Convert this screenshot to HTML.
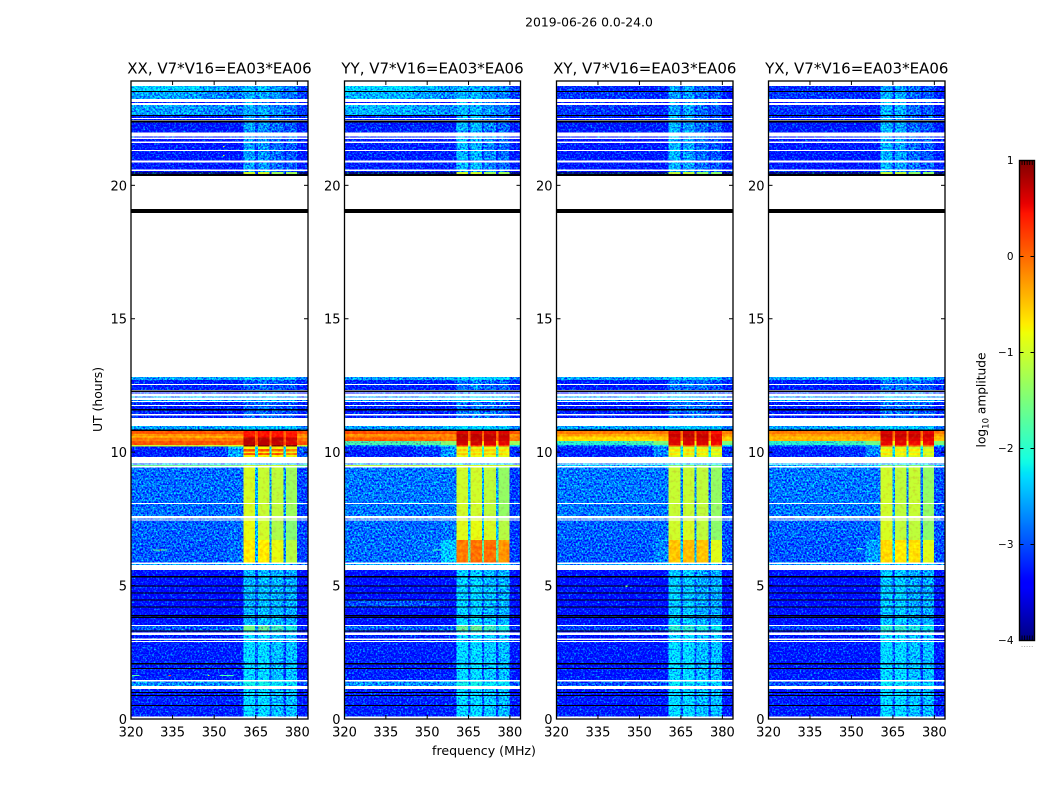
<!DOCTYPE html>
<html lang="en">
<head>
<meta charset="utf-8">
<title>2019-06-26 dynamic spectra</title>
<style>
  html, body { margin: 0; padding: 0; background: #fff; }
  svg { display: block; }
  text { font-family: "DejaVu Sans", "Liberation Sans", sans-serif; fill: #000; }
</style>
</head>
<body>
<svg id="figure" width="1050" height="800" viewBox="0 0 1050 800" xmlns="http://www.w3.org/2000/svg">
  <defs>
    <filter id="speckle" filterUnits="userSpaceOnUse" x="120" y="70" width="840" height="660" color-interpolation-filters="sRGB">
      <feTurbulence type="fractalNoise" baseFrequency="0.55" numOctaves="2" seed="7" result="turb"/>
      <feColorMatrix in="turb" type="matrix" values="0 0 0 0 0.5  1 0 0 0 0  0 0 0 0 0.5  0 0 0 0 1" result="grain"/>
      <feComposite in="SourceGraphic" in2="grain" operator="arithmetic" k1="0" k2="1" k3="2.1" k4="-1.05" result="mixed"/>
      <feComposite in="mixed" in2="SourceAlpha" operator="in"/>
    </filter>
    <filter id="speckle-soft" filterUnits="userSpaceOnUse" x="120" y="70" width="840" height="660" color-interpolation-filters="sRGB">
      <feTurbulence type="fractalNoise" baseFrequency="0.3" numOctaves="2" seed="11" result="turb"/>
      <feColorMatrix in="turb" type="matrix" values="0 0 0 0 0.5  1 0 0 0 0  0 0 0 0 0.5  0 0 0 0 1" result="grain"/>
      <feComposite in="SourceGraphic" in2="grain" operator="arithmetic" k1="0" k2="1" k3="0.45" k4="-0.225" result="mixed"/>
      <feComposite in="mixed" in2="SourceAlpha" operator="in"/>
    </filter>
    <linearGradient id="cbar-gradient" x1="0" y1="1" x2="0" y2="0"></linearGradient>
  </defs>
  <rect x="0" y="0" width="1050" height="800" fill="#fff"/>
  <text x="589" y="26.5" font-size="12.4" text-anchor="middle">2019-06-26 0.0-24.0</text>
  <text transform="translate(102,399.5) rotate(-90)" font-size="12.4" text-anchor="middle">UT (hours)</text>
  <text x="484" y="755" font-size="12.6" text-anchor="middle">frequency (MHz)</text>
  <g id="panels"></g>
  <g id="colorbar">
    <rect id="cbar-fill" x="1019.5" y="160.5" width="15" height="480" fill="url(#cbar-gradient)" stroke="#000" stroke-width="1.4"/>
    <text transform="translate(985.5,400) rotate(-90)" font-size="12.2" text-anchor="middle">log<tspan font-size="8.5" dy="3">10</tspan><tspan dy="-3"> amplitude</tspan></text>
  </g>
</svg>
<script>
/* ---------- shared data ---------- */
const panelNames = ['XX', 'YY', 'XY', 'YX'];
const baselineLabel = 'V7*V16=EA03*EA06';
const xTicks = [320, 335, 350, 365, 380];
const yTicks = [0, 5, 10, 15, 20];
const cbarTicks = [1, 0, -1, -2, -3, -4];
const cbarMinorTicks = [1, 2, 3, 4, 5];
/* channel edges in MHz: bg, bg, bg, band1, gap, band2, gap, band3, gap, band4, bg */
const channelEdges = [320, 345, 355, 360.6, 364.8, 365.8, 369.9, 370.6, 375, 375.9, 379.8, 384];
/* integrations: [UT start, UT end, spectrum class] */
const rowSpans = [
  [23.73,23.54,'topA'],[23.54,23.50,'black'],[23.50,23.24,'topB'],[23.13,23.09,'upper'],
  [23.01,22.64,'topB'],[22.64,22.60,'black'],[22.60,22.53,'upper'],[22.49,22.45,'upper'],[22.43,22.35,'black'],
  [22.35,21.98,'upper'],[21.83,21.79,'upper'],[21.74,21.64,'upper'],[21.59,21.33,'upper'],[21.29,20.93,'upper'],
  [20.85,20.59,'upper'],[20.54,20.50,'upper'],[20.50,20.42,'edge'],[20.42,20.35,'black'],[19.12,18.97,'black'],
  [12.82,12.70,'cyanRow'],[12.70,12.56,'rows'],[12.52,12.33,'rows'],[12.31,12.26,'black'],[12.24,12.20,'rows'],
  [12.08,12.04,'cyanRow'],[11.96,11.92,'cyanRow'],[11.88,11.77,'rows'],[11.73,11.62,'rows'],[11.62,11.56,'black'],
  [11.56,11.43,'rows'],[11.38,11.28,'rows'],[10.98,10.85,'cyanRow'],[10.85,10.79,'black'],
  [10.79,10.68,'hotA'],[10.68,10.59,'hotB'],[10.59,10.55,'hotC'],[10.55,10.42,'hotD'],[10.42,10.27,'hotE'],[10.27,10.22,'hotF'],
  [10.22,10.12,'glowY'],[10.12,10.03,'glowO'],[10.03,9.97,'glowY'],[9.97,9.90,'glowO'],[9.90,9.82,'glowY'],
  [9.58,9.56,'cyanRow'],[9.52,9.48,'yellowRow'],
  [9.42,8.10,'midA'],[8.06,7.61,'midA'],[7.52,7.49,'midA'],[7.43,6.71,'midC'],[6.71,5.87,'midD'],[5.81,5.77,'cyanRow'],
  [5.58,5.35,'lowDark'],[5.35,5.31,'black'],[5.31,5.01,'lowDark'],[5.01,4.97,'black'],[4.97,4.75,'lowDark'],[4.75,4.71,'black'],
  [4.71,4.48,'lowDark'],[4.48,4.44,'black'],[4.44,4.22,'lowHaze'],[4.22,4.18,'black'],[4.18,3.89,'lowDark'],[3.89,3.85,'black'],
  [3.85,3.82,'lowDark'],[3.82,3.78,'black'],[3.78,3.52,'lowDark'],[3.49,3.32,'lowBright'],[3.32,3.28,'black'],[3.28,3.26,'lowDark'],
  [3.15,3.01,'lowBlue'],[2.96,2.92,'lowBlue'],[2.89,2.09,'lowBlue'],[2.09,2.05,'black'],[2.05,1.92,'lowBlue'],[1.92,1.88,'black'],
  [1.88,1.46,'lowBlue'],[1.40,1.24,'cyanStrip'],[1.12,1.01,'lowBlue'],[1.01,0.97,'black'],[0.97,0.90,'lowBlue'],[0.90,0.86,'black'],
  [0.86,0.52,'lowBlue'],[0.52,0.48,'black'],[0.48,0.09,'lowBlue']
];
/* log10 amplitude per channel block */
const spectraXX = {
  topA:[-2.35,-2.55,-2.7,-2.45,-2.7,-2.45,-2.75,-2.65,-2.9,-2.75,-3.1],
  topB:[-2.6,-2.7,-2.8,-2.55,-2.75,-2.55,-2.8,-2.7,-2.9,-2.8,-3.1],
  upper:[-3.3,-3.3,-3.3,-2.6,-3.1,-2.65,-3.1,-2.85,-3.2,-2.95,-3.3],
  edge:[-4,-4,-4,-1.0,-3.2,-1.0,-3.2,-1.3,-3.2,-1.3,-4],
  cyanRow:[-2.6,-2.6,-2.55,-2.4,-2.6,-2.4,-2.6,-2.45,-2.6,-2.45,-2.8],
  rows:[-3.25,-3.25,-3.25,-2.95,-3.1,-2.85,-3.1,-2.95,-3.1,-3.0,-3.25],
  hotA:[0.1,0.1,0.1,0.45,0.1,0.45,0.1,0.45,0.1,0.4,0.15],
  hotB:[-0.2,-0.2,-0.15,0.45,0.05,0.45,0.05,0.45,0.05,0.4,-0.1],
  hotC:[-0.55,-0.55,-0.5,0.5,-0.1,0.5,-0.1,0.5,-0.1,0.45,-0.5],
  hotD:[-0.1,-0.1,-0.05,0.75,0.1,0.75,0.1,0.75,0.1,0.65,-0.05],
  hotE:[0.1,0.1,0.1,0.75,0.15,0.75,0.15,0.7,0.15,0.6,0.1],
  hotF:[-1.0,-1.0,-0.9,1.0,-0.4,1.0,-0.4,1.0,-0.4,1.0,-1.0],
  glowY:[-3.25,-3.1,-2.5,-0.75,-2.3,-0.75,-2.3,-0.75,-2.3,-0.85,-2.9],
  glowO:[-3.25,-3.1,-2.6,0.1,-2.1,0.1,-2.1,0.05,-2.1,-0.15,-3.0],
  yellowRow:[-1.6,-1.6,-1.5,-1.0,-1.4,-1.0,-1.4,-1.0,-1.4,-1.1,-1.6],
  midA:[-2.85,-2.85,-2.85,-0.95,-2.5,-1.05,-2.6,-1.1,-2.7,-1.3,-3.05],
  midC:[-2.9,-2.9,-2.85,-0.85,-2.5,-1.0,-2.6,-1.2,-2.7,-1.45,-3.05],
  midD:[-2.95,-2.95,-2.85,-0.7,-2.5,-0.7,-2.6,-0.85,-2.7,-1.15,-3.05],
  lowDark:[-3.45,-3.45,-3.4,-2.5,-3.0,-2.45,-2.9,-2.5,-3.0,-2.55,-3.4],
  lowHaze:[-3.4,-3.4,-3.4,-2.5,-3.0,-2.45,-2.9,-2.5,-3.0,-2.55,-3.4],
  lowBright:[-2.95,-2.95,-2.85,-1.55,-2.6,-1.65,-2.6,-1.9,-2.7,-2.1,-3.2],
  lowBlue:[-3.25,-3.25,-3.25,-2.3,-2.9,-2.3,-3.0,-2.45,-3.1,-2.45,-3.3],
  cyanStrip:[-2.7,-2.7,-2.6,-2.15,-2.5,-2.15,-2.5,-2.25,-2.6,-2.25,-3.0]
};
const spectraYY = {
  topA:[-2.3,-2.45,-2.65,-2.5,-2.75,-2.5,-2.75,-2.6,-2.9,-2.75,-3.1],
  topB:[-2.5,-2.6,-2.7,-2.5,-2.75,-2.5,-2.75,-2.65,-2.9,-2.75,-3.1],
  upper:[-3.25,-3.25,-3.25,-2.5,-3.1,-2.5,-3.1,-2.75,-3.2,-2.85,-3.3],
  edge:[-4,-4,-4,-1.0,-3.2,-1.0,-3.2,-1.3,-3.2,-1.3,-4],
  cyanRow:[-2.6,-2.6,-2.5,-2.3,-2.6,-2.3,-2.6,-2.35,-2.6,-2.35,-2.8],
  rows:[-3.25,-3.25,-3.25,-2.8,-3.1,-2.75,-3.1,-2.85,-3.1,-2.9,-3.25],
  hotA:[0.15,0.1,0.1,0.6,0.1,0.6,0.1,0.6,0.1,0.6,0.1],
  hotB:[-0.25,-0.25,-0.2,0.75,0.05,0.75,0.05,0.7,0.05,0.7,-0.25],
  hotC:[-0.1,-0.1,-0.1,0.75,0.05,0.75,0.05,0.75,0.05,0.7,-0.1],
  hotD:[0.05,0.0,-0.1,0.7,0.05,0.7,0.05,0.7,0.05,0.65,-0.1],
  hotE:[-1.8,-1.7,-1.4,0.65,-0.6,0.65,-0.6,0.6,-0.6,0.55,-1.3],
  hotF:[-2.7,-2.5,-2.1,0.3,-1.2,0.3,-1.2,0.3,-1.2,0.2,-2.1],
  glowY:[-3.25,-3.1,-2.7,-0.85,-2.1,-0.85,-2.1,-0.85,-2.1,-0.9,-3.2],
  glowO:[-3.25,-3.1,-2.6,-0.55,-1.9,-0.55,-1.9,-0.55,-1.9,-0.65,-3.2],
  yellowRow:[-1.1,-1.1,-1.1,-0.9,-1.1,-0.9,-1.1,-0.9,-1.1,-1.0,-1.1],
  midA:[-2.8,-2.8,-2.8,-1.0,-2.4,-1.0,-2.5,-1.1,-2.6,-1.35,-3.1],
  midC:[-2.85,-2.85,-2.8,-0.9,-2.4,-0.85,-2.5,-0.95,-2.5,-1.15,-3.1],
  midD:[-2.85,-2.8,-2.4,-0.1,-1.7,-0.05,-1.7,-0.05,-1.7,-0.25,-3.1],
  lowDark:[-3.4,-3.4,-3.4,-2.35,-3.0,-2.35,-2.9,-2.45,-3.0,-2.5,-3.4],
  lowHaze:[-3.0,-3.05,-3.25,-2.35,-3.0,-2.35,-2.9,-2.45,-3.0,-2.5,-3.4],
  lowBright:[-2.95,-2.95,-2.85,-1.65,-2.6,-1.65,-2.6,-1.9,-2.7,-2.1,-3.2],
  lowBlue:[-3.25,-3.25,-3.25,-2.3,-2.9,-2.3,-3.0,-2.4,-3.1,-2.45,-3.3],
  cyanStrip:[-2.7,-2.7,-2.6,-2.15,-2.5,-2.15,-2.5,-2.25,-2.6,-2.25,-3.0]
};
const spectraXY = {
  topA:[-3.2,-3.25,-3.25,-2.6,-3.1,-2.6,-3.1,-2.85,-3.2,-2.95,-3.3],
  topB:[-3.15,-3.2,-3.25,-2.6,-3.1,-2.6,-3.1,-2.85,-3.2,-2.95,-3.3],
  upper:[-3.3,-3.3,-3.3,-2.5,-3.1,-2.6,-3.1,-2.85,-3.2,-2.95,-3.3],
  edge:[-4,-4,-4,-1.1,-3.2,-1.1,-3.2,-1.4,-3.2,-1.4,-4],
  cyanRow:[-2.6,-2.6,-2.55,-2.4,-2.6,-2.4,-2.6,-2.45,-2.6,-2.45,-2.8],
  rows:[-3.3,-3.3,-3.3,-2.8,-3.1,-2.8,-3.1,-2.85,-3.1,-2.95,-3.25],
  hotA:[-0.1,-0.1,-0.1,0.6,0.0,0.65,0.0,0.6,0.0,0.45,-0.1],
  hotB:[-0.35,-0.35,-0.3,0.7,0.0,0.75,0.0,0.7,0.0,0.55,-0.3],
  hotC:[-0.55,-0.55,-0.5,0.7,-0.05,0.75,-0.05,0.75,-0.05,0.6,-0.5],
  hotD:[-0.6,-0.6,-0.5,0.6,-0.1,0.65,-0.1,0.65,-0.1,0.55,-0.5],
  hotE:[-2.0,-1.85,-1.5,0.6,-0.8,0.6,-0.8,0.6,-0.8,0.5,-1.5],
  hotF:[-2.8,-2.6,-2.2,0.2,-1.3,0.2,-1.3,0.2,-1.3,0.1,-2.3],
  glowY:[-3.25,-3.15,-2.8,-0.95,-2.3,-0.95,-2.3,-0.95,-2.3,-1.05,-3.2],
  glowO:[-3.25,-3.15,-2.7,-0.65,-2.2,-0.65,-2.2,-0.65,-2.2,-0.8,-3.2],
  yellowRow:[-2.4,-2.4,-2.3,-1.4,-2.1,-1.4,-2.1,-1.4,-2.1,-1.6,-2.4],
  midA:[-2.8,-2.8,-2.8,-1.05,-2.7,-1.05,-2.7,-1.1,-2.8,-1.35,-3.0],
  midC:[-2.9,-2.9,-2.85,-1.0,-2.6,-0.95,-2.7,-1.1,-2.8,-1.4,-3.0],
  midD:[-2.95,-2.95,-2.75,-0.5,-2.4,-0.45,-2.5,-0.5,-2.7,-0.9,-3.0],
  lowDark:[-3.45,-3.45,-3.4,-2.4,-3.0,-2.4,-2.9,-2.55,-3.0,-2.55,-3.4],
  lowHaze:[-3.4,-3.4,-3.4,-2.4,-3.0,-2.4,-2.9,-2.55,-3.0,-2.55,-3.4],
  lowBright:[-3.05,-3.05,-2.95,-2.0,-2.75,-2.0,-2.75,-2.1,-2.75,-2.2,-3.2],
  lowBlue:[-3.3,-3.3,-3.3,-2.3,-2.95,-2.3,-3.0,-2.45,-3.1,-2.45,-3.3],
  cyanStrip:[-3.0,-3.0,-2.95,-2.25,-2.7,-2.25,-2.7,-2.35,-2.8,-2.35,-3.05]
};
const spectraYX = {
  topA:[-3.2,-3.25,-3.25,-2.6,-3.1,-2.6,-3.1,-2.85,-3.2,-2.95,-3.3],
  topB:[-3.15,-3.2,-3.25,-2.5,-3.1,-2.5,-3.1,-2.85,-3.2,-2.95,-3.3],
  upper:[-3.3,-3.3,-3.3,-2.5,-3.1,-2.6,-3.1,-2.85,-3.2,-2.95,-3.3],
  edge:[-4,-4,-4,-1.1,-3.2,-1.1,-3.2,-1.4,-3.2,-1.4,-4],
  cyanRow:[-2.6,-2.6,-2.55,-2.4,-2.6,-2.4,-2.6,-2.45,-2.6,-2.45,-2.8],
  rows:[-3.3,-3.3,-3.3,-2.8,-3.1,-2.8,-3.1,-2.85,-3.1,-2.95,-3.25],
  hotA:[-0.1,-0.1,-0.1,0.6,0.0,0.6,0.0,0.6,0.0,0.55,-0.1],
  hotB:[-0.3,-0.3,-0.25,0.7,0.0,0.7,0.0,0.7,0.0,0.65,-0.3],
  hotC:[-0.45,-0.45,-0.4,0.7,-0.05,0.7,-0.05,0.7,-0.05,0.65,-0.45],
  hotD:[-0.4,-0.4,-0.4,0.6,-0.1,0.6,-0.1,0.6,-0.1,0.55,-0.45],
  hotE:[-2.0,-1.85,-1.55,0.55,-0.8,0.55,-0.8,0.5,-0.8,0.5,-1.5],
  hotF:[-2.8,-2.6,-2.3,0.2,-1.3,0.2,-1.3,0.2,-1.3,0.1,-2.3],
  glowY:[-3.25,-3.15,-2.8,-0.95,-2.3,-0.95,-2.3,-0.95,-2.3,-1.05,-3.2],
  glowO:[-3.25,-3.15,-2.7,-0.7,-2.2,-0.7,-2.2,-0.7,-2.2,-0.85,-3.2],
  yellowRow:[-2.4,-2.4,-2.3,-1.4,-2.1,-1.4,-2.1,-1.4,-2.1,-1.6,-2.4],
  midA:[-2.8,-2.8,-2.8,-1.0,-2.6,-1.1,-2.7,-1.05,-2.8,-1.35,-3.0],
  midC:[-2.9,-2.9,-2.85,-0.95,-2.6,-1.1,-2.7,-1.1,-2.8,-1.4,-3.0],
  midD:[-2.95,-2.95,-2.6,-0.6,-2.3,-0.7,-2.5,-0.65,-2.7,-0.9,-3.0],
  lowDark:[-3.45,-3.45,-3.4,-2.4,-3.0,-2.4,-2.9,-2.55,-3.0,-2.55,-3.4],
  lowHaze:[-3.4,-3.4,-3.4,-2.4,-3.0,-2.4,-2.9,-2.55,-3.0,-2.55,-3.4],
  lowBright:[-3.05,-3.05,-2.95,-2.0,-2.75,-2.0,-2.75,-2.1,-2.75,-2.2,-3.2],
  lowBlue:[-3.3,-3.3,-3.3,-2.3,-2.95,-2.3,-3.0,-2.45,-3.1,-2.45,-3.3],
  cyanStrip:[-3.0,-3.0,-2.95,-2.25,-2.7,-2.25,-2.7,-2.35,-2.8,-2.35,-3.05]
};
/* isolated interference: [UT, freq from, freq to, log10 amplitude] */
const specksXX = [
  [6.36,328,333,-1.7],[6.36,330.2,330.8,0.3],[1.65,320.4,323,-1.7],[1.65,333.6,334.4,0.2],
  [1.65,347.7,348.3,-1.0],[1.65,352,357,-1.8],[21.48,353.2,353.8,-0.9],[21.14,353.2,353.8,-0.9]
];
const specksYY = [[6.36,352,355,-1.9]];
const specksXY = [[5.0,345,345.6,-1.4]];
const specksYX = [[6.4,352,354,-2.0]];

const panelSpectra = [spectraXX, spectraYY, spectraXY, spectraYX];
const panelSpecks = [specksXX, specksYY, specksXY, specksYX];

/* ---------- layout ---------- */
const panelLefts = [131, 344.5, 556.5, 768.5];
const panelRights = [308, 520.5, 733, 945];
const plotTop = 81, plotBottom = 719;
const NS = 'http://www.w3.org/2000/svg';
const fMin = 320, fPerPanel = 63.85, utMax = 23.91;
const softThreshold = -1.6;

function yScale(ut) { return plotBottom - (ut / utMax) * (plotBottom - plotTop); }
function xScale(i, f) {
  return panelLefts[i] + (f - fMin) / fPerPanel * (panelRights[i] - panelLefts[i]);
}
const jetR = [[0,0],[0.35,0],[0.66,1],[0.89,1],[1,0.5]];
const jetG = [[0,0],[0.125,0],[0.375,1],[0.64,1],[0.91,0],[1,0]];
const jetB = [[0,0.5],[0.11,1],[0.34,1],[0.65,0],[1,0]];
function lerpTable(tab, t) {
  for (let k = 1; k < tab.length; k++) {
    if (t <= tab[k][0]) {
      const a = tab[k - 1], b = tab[k];
      return a[1] + (b[1] - a[1]) * (t - a[0]) / (b[0] - a[0]);
    }
  }
  return tab[tab.length - 1][1];
}
function jet(t) {
  t = Math.max(0, Math.min(1, t));
  const c = [jetR, jetG, jetB].map(function (tab) { return Math.round(lerpTable(tab, t) * 255); });
  return 'rgb(' + c.join(',') + ')';
}
function colorOf(level) { return jet((level + 4) / 5); }
function mk(tag, parent, attrs) {
  const el = document.createElementNS(NS, tag);
  for (const k in attrs) el.setAttribute(k, attrs[k]);
  parent.appendChild(el);
  return el;
}

const panelsRoot = document.getElementById('panels');
panelNames.forEach(function (name, i) {
  const left = panelLefts[i], right = panelRights[i];
  const panel = mk('g', panelsRoot, {});
  
  

  const heat = mk('g', panel, { filter: 'url(#speckle)', 'shape-rendering': 'crispEdges' });
  
  
  const strong = mk('g', panel, { filter: 'url(#speckle-soft)', 'shape-rendering': 'crispEdges' });
  
  
  const flagged = mk('g', panel, { 'shape-rendering': 'crispEdges' });
  
  

  const spectra = panelSpectra[i];
  rowSpans.forEach(function (row) {
    const y0 = yScale(row[0]), y1 = yScale(row[1]);
    if (row[2] === 'black') {
      const bar = mk('rect', flagged, {
        x: left, y: y0, width: right - left, height: Math.max(1, y1 - y0), fill: '#000'
      });
      
      
      return;
    }
    const levels = spectra[row[2]];
    levels.forEach(function (level, c) {
      const x0 = xScale(i, channelEdges[c]);
      const x1 = Math.min(right, xScale(i, channelEdges[c + 1]));
      const cell = mk('rect', level >= softThreshold ? strong : heat, {
        x: x0, y: y0, width: x1 - x0, height: Math.max(1, y1 - y0), fill: colorOf(level)
      });
      
      
    });
  });

  panelSpecks[i].forEach(function (s) {
    const x0 = xScale(i, s[1]), x1 = xScale(i, s[2]);
    const speck = mk('rect', flagged, { x: x0, y: yScale(s[0]), width: x1 - x0, height: 1.2, fill: colorOf(s[3]) });
    
    
  });

  const frame = mk('rect', panel, {
    x: left, y: plotTop, width: right - left, height: plotBottom - plotTop,
    fill: 'none', stroke: '#000', 'stroke-width': 1.3
  });
  
  

  const title = mk('text', panel, { x: (left + right) / 2, y: 73.5, 'font-size': 15, 'text-anchor': 'middle' });
  title.textContent = name + ', ' + baselineLabel;
  
  

  xTicks.forEach(function (t) {
    const x = xScale(i, t);
    const top = mk('line', panel, { x1: x, x2: x, y1: plotTop, y2: plotTop + 4, stroke: '#000', 'stroke-width': 1 });
    
    
    const bot = mk('line', panel, { x1: x, x2: x, y1: plotBottom, y2: plotBottom - 4, stroke: '#000', 'stroke-width': 1 });
    
    
    const lab = mk('text', panel, { x: x, y: 736.5, 'font-size': 13, 'text-anchor': 'middle' });
    lab.textContent = String(t);
    
    
  });

  yTicks.forEach(function (t) {
    const y = yScale(t);
    const l = mk('line', panel, { x1: left, x2: left + 4, y1: y, y2: y, stroke: '#000', 'stroke-width': 1 });
    
    
    const r = mk('line', panel, { x1: right, x2: right - 4, y1: y, y2: y, stroke: '#000', 'stroke-width': 1 });
    
    
    const lab = mk('text', panel, { x: left - 4, y: y + 5, 'font-size': 13, 'text-anchor': 'end' });
    lab.textContent = String(t);
    
    
  });
});

/* ---------- colour bar ---------- */
const cbarTop = 160.5, cbarBottom = 640.5, cbarLeft = 1019.5, cbarRight = 1034.5;
function cbarY(v) { return cbarBottom - (v + 4) / 5 * (cbarBottom - cbarTop); }
const grad = document.getElementById('cbar-gradient');
for (let s = 0; s <= 100; s++) {
  mk('stop', grad, { offset: (s / 100), 'stop-color': jet(s / 100) });
}
const cbar = document.getElementById('colorbar');
cbarTicks.forEach(function (v) {
  const y = cbarY(v);
  if (v !== 1 && v !== -4) {
    const a = mk('line', cbar, { x1: cbarLeft, x2: cbarLeft + 4, y1: y, y2: y, stroke: '#000', 'stroke-width': 1 });
    
    
    const b = mk('line', cbar, { x1: cbarRight, x2: cbarRight - 4, y1: y, y2: y, stroke: '#000', 'stroke-width': 1 });
    
    
  }
  const lab = mk('text', cbar, { x: 1013.5, y: y + 3.5, 'font-size': 10.5, 'text-anchor': 'end' });
  lab.textContent = v < 0 ? '\u2212' + Math.abs(v) : String(v);
  
  
});
cbarMinorTicks.forEach(function (k) {
  const x = cbarLeft + k * 2.55;
  const a = mk('line', cbar, { x1: x, x2: x, y1: cbarTop, y2: cbarTop + 4.5, stroke: '#000', 'stroke-width': 0.9 });
  
  
  const b = mk('line', cbar, { x1: x, x2: x, y1: cbarBottom, y2: cbarBottom - 5, stroke: '#000', 'stroke-width': 0.9 });
  
  
  const d = mk('rect', cbar, { x: x - 0.5, y: 646, width: 1, height: 1, fill: '#aaa' });
  
  
});
</script>
</body>
</html>
